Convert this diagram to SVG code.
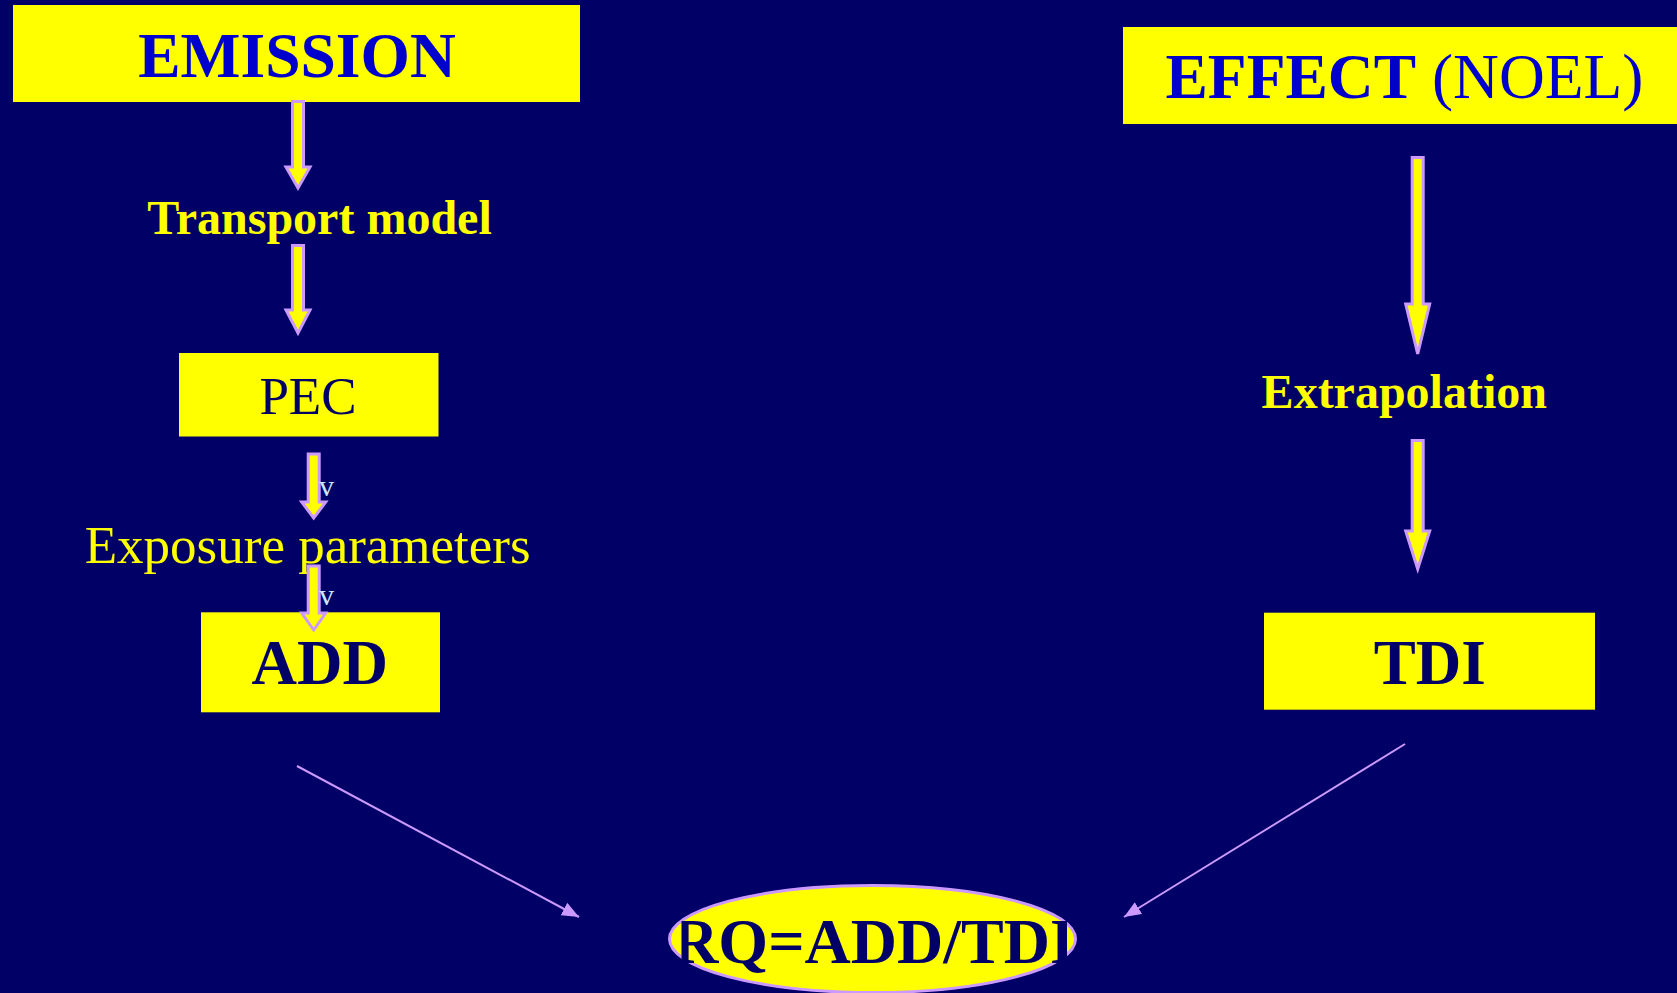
<svg xmlns="http://www.w3.org/2000/svg" width="1677" height="993" viewBox="0 0 1677 993">
  <style>
    .box { fill: #FFFF00; }
    .hdr { font-family: "Liberation Serif", "Times New Roman", serif; fill: #0000CC; text-anchor: middle; }
    .lbl { font-family: "Liberation Serif", "Times New Roman", serif; fill: #FFFF00; text-anchor: middle; }
    .dark { font-family: "Liberation Serif", "Times New Roman", serif; fill: #000066; text-anchor: middle; }
    .b { font-weight: bold; }
    .barrow { fill: #FFFF00; stroke: #CC99FF; stroke-width: 3; stroke-linejoin: miter; }
    .thin { stroke: #CC99FF; stroke-width: 2; fill: none; }
    .vtxt { font-family: "Liberation Serif", "Times New Roman", serif; fill: #CCE6FF; font-size: 30px; }
  </style>
  <defs>
    <marker id="ah" markerUnits="userSpaceOnUse" markerWidth="18" markerHeight="14" refX="17" refY="7" orient="auto">
      <path d="M0,0 L17,7 L0,14 Z" fill="#CC99FF"/>
    </marker>
    <clipPath id="rqclip">
      <rect x="681.5" y="880" width="385.5" height="113"/>
    </clipPath>
  </defs>
  <rect x="0" y="0" width="1677" height="993" fill="#000066"/>

  <g id="emission">
    <rect class="box" x="13" y="5" width="567" height="97"/>
    <text class="hdr b" x="297" y="77" font-size="63.5">EMISSION</text>
  </g>
  <g id="transport-model">
    <text class="lbl b" x="319.5" y="234" font-size="48">Transport model</text>
  </g>
  <g id="pec">
    <rect class="box" x="179" y="353" width="259.5" height="83.5"/>
    <text class="dark" x="308" y="414" font-size="53">PEC</text>
  </g>
  <g id="exposure-parameters">
    <text class="lbl" x="307.7" y="562.5" font-size="53">Exposure parameters</text>
  </g>
  <g id="add">
    <rect class="box" x="201" y="612.3" width="239" height="100"/>
    <text class="dark b" x="319.7" y="683.5" font-size="63">ADD</text>
  </g>
  <g id="effect">
    <rect class="box" x="1123" y="27" width="554" height="97"/>
    <text class="hdr" x="1404.5" y="98" font-size="63.5"><tspan class="b">EFFECT</tspan> (NOEL)</text>
  </g>
  <g id="extrapolation">
    <text class="lbl b" x="1404.3" y="407.5" font-size="48">Extrapolation</text>
  </g>
  <g id="tdi">
    <rect class="box" x="1264" y="612.7" width="331" height="97"/>
    <text class="dark b" x="1429.7" y="684" font-size="63">TDI</text>
  </g>
  <g id="rq">
    <ellipse cx="872.5" cy="939" rx="203" ry="53.5" fill="#FFFF00" stroke="#CC99FF" stroke-width="3"/>
    <text class="dark b" x="873.5" y="962.5" font-size="64" clip-path="url(#rqclip)">RQ=ADD/TDI</text>
  </g>

  <g id="connectors">
    <path class="barrow" d="M292.5,101.5 L303.5,101.5 L303.5,167 L310,167 L298,188 L286,167 L292.5,167 Z"/>
    <path class="barrow" d="M292.5,245.5 L303.5,245.5 L303.5,310 L310,310 L298,333 L286,310 L292.5,310 Z"/>
    <path class="barrow" d="M308.2,454 L319.2,454 L319.2,502 L325.7,502 L313.7,518 L301.7,502 L308.2,502 Z"/>
    <path class="barrow" d="M308.2,566 L319.2,566 L319.2,613 L325.7,613 L313.7,630 L301.7,613 L308.2,613 Z"/>
    <path class="barrow" d="M1412.2,157.5 L1423.2,157.5 L1423.2,304 L1429.7,304 L1417.7,354 L1405.7,304 L1412.2,304 Z"/>
    <path class="barrow" d="M1412.2,440.5 L1423.2,440.5 L1423.2,531 L1429.7,531 L1417.7,569 L1405.7,531 L1412.2,531 Z"/>
    <text class="vtxt" x="319" y="496">v</text>
    <text class="vtxt" x="319" y="605">v</text>
    <line class="thin" x1="297" y1="766" x2="579" y2="917" marker-end="url(#ah)"/>
    <line class="thin" x1="1405" y1="744" x2="1124" y2="917" marker-end="url(#ah)"/>
  </g>
</svg>
